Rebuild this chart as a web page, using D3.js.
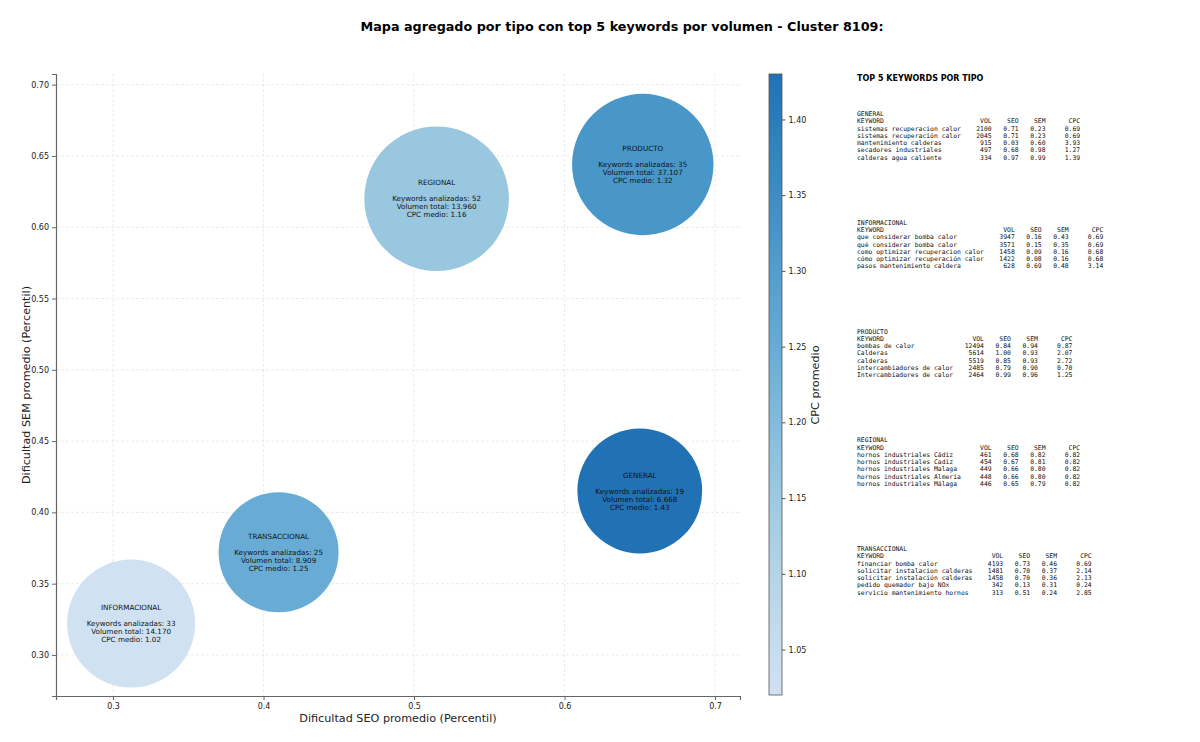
<!DOCTYPE html>
<html>
<head>
<meta charset="utf-8">
<script src="https://cdn.jsdelivr.net/npm/d3@7"></script>
<style>
  body { margin: 0; background: #fff; }
  text { font-family: "DejaVu Sans", sans-serif; fill: #222; }
  .mono { font-family: "DejaVu Sans Mono", monospace; white-space: pre; }
</style>
</head>
<body>
<div class="stage"></div>
<script>
// datos agregados por tipo
var tipos = ["GENERAL", "INFORMACIONAL", "PRODUCTO", "REGIONAL", "TRANSACCIONAL"];
var seoMedio = [0.650, 0.312, 0.652, 0.515, 0.410];
var semMedio = [0.415, 0.322, 0.644, 0.620, 0.372];
var cpcMedio = [1.43, 1.02, 1.32, 1.16, 1.25];
var numKeywords = [19, 33, 35, 52, 25];
var volumenTotal = [6668, 14170, 37107, 13960, 8909];
var pesoBurbuja = [3894, 4096, 4998, 5227, 3600];

// top 5 keywords por tipo
var topKeywords = [
  ["sistemas recuperacion calor", "sistemas recuperación calor", "mantenimiento calderas", "secadores industriales", "calderas agua caliente"],
  ["que considerar bomba calor", "qué considerar bomba calor", "como optimizar recuperacion calor", "cómo optimizar recuperación calor", "pasos mantenimiento caldera"],
  ["bombas de calor", "Calderas", "calderas", "intercambiadores de calor", "Intercambiadores de calor"],
  ["hornos industriales Cádiz", "hornos industriales Cadiz", "hornos industriales Malaga", "hornos industriales Almeria", "hornos industriales Málaga"],
  ["financiar bomba calor", "solicitar instalacion calderas", "solicitar instalación calderas", "pedido quemador bajo NOx", "servicio mantenimiento hornos"]
];
var topVol = [[2100, 2045, 915, 497, 334], [3947, 3571, 1458, 1422, 628], [12494, 5614, 5519, 2485, 2464], [461, 454, 449, 448, 446], [4193, 1481, 1458, 342, 313]];
var topSeo = [[0.71, 0.71, 0.03, 0.68, 0.97], [0.16, 0.15, 0.09, 0.08, 0.69], [0.84, 1.00, 0.85, 0.79, 0.99], [0.68, 0.67, 0.66, 0.66, 0.65], [0.73, 0.70, 0.70, 0.13, 0.51]];
var topSem = [[0.23, 0.23, 0.60, 0.98, 0.99], [0.43, 0.35, 0.16, 0.16, 0.48], [0.94, 0.93, 0.93, 0.90, 0.96], [0.82, 0.81, 0.80, 0.80, 0.79], [0.46, 0.37, 0.36, 0.31, 0.24]];
var topCpc = [[0.69, 0.69, 3.93, 1.27, 1.39], [0.69, 0.69, 0.68, 0.68, 3.14], [0.87, 2.07, 2.72, 0.70, 1.25], [0.82, 0.82, 0.82, 0.82, 0.82], [0.69, 2.14, 2.13, 0.24, 2.85]];

var xTicks = [0.3, 0.4, 0.5, 0.6, 0.7];
var yTicks = [0.30, 0.35, 0.40, 0.45, 0.50, 0.55, 0.60, 0.65, 0.70];
var cTicks = [1.05, 1.10, 1.15, 1.20, 1.25, 1.30, 1.35, 1.40];

var W = 1200, H = 742;
var svg = d3.select(".stage").append("svg").attr("width", W).attr("height", H);

var x = d3.scaleLinear().domain([0.2621, 0.7166]).range([56, 740]);
var y = d3.scaleLinear().domain([0.2712, 0.7075]).range([696, 74]);
var r = d3.scaleSqrt().domain([0, d3.max(pesoBurbuja)]).range([0, 72.3]);

// matplotlib Blues, recortado a [0.2, 0.75]
var bluesStops = ["#f7fbff", "#deebf7", "#c6dbef", "#9ecae1", "#6baed6", "#4292c6", "#2171b5", "#08519c", "#08306b"];
var blues = d3.scaleLinear().domain(d3.range(9).map(function(i){ return i / 8; })).range(bluesStops).interpolate(d3.interpolateRgb);
var cpcExt = d3.extent(cpcMedio);
var color = function(v) { return blues(0.2 + 0.55 * (v - cpcExt[0]) / (cpcExt[1] - cpcExt[0])); };

// titulo
svg.append("text").attr("x", 622).attr("y", 31).attr("text-anchor", "middle")
  .style("font-weight", "bold").style("font-size", "12.75px").style("fill", "#000")
  .text("Mapa agregado por tipo con top 5 keywords por volumen - Cluster 8109:");

// grid
var grid = svg.append("g").attr("stroke", "#e3e3e3").attr("stroke-width", 0.7).attr("stroke-dasharray", "3,2");
grid.selectAll("line.gx").data(xTicks).enter().append("line")
  .attr("x1", function(d){ return x(d); }).attr("x2", function(d){ return x(d); })
  .attr("y1", 74).attr("y2", 696);
grid.selectAll("line.gy").data(yTicks).enter().append("line")
  .attr("y1", function(d){ return y(d); }).attr("y2", function(d){ return y(d); })
  .attr("x1", 56).attr("x2", 740);

// ejes
var xAxis = svg.append("g").attr("transform", "translate(0,696)")
  .call(d3.axisBottom(x).tickValues(xTicks).tickFormat(d3.format(".1f")).tickSizeOuter(0).tickSize(4).tickPadding(3));
var yAxis = svg.append("g").attr("transform", "translate(56,0)")
  .call(d3.axisLeft(y).tickValues(yTicks).tickFormat(d3.format(".2f")).tickSizeOuter(0).tickSize(4).tickPadding(3));
[xAxis, yAxis].forEach(function(a){
  a.select(".domain").attr("stroke", "#666").attr("stroke-width", 1.2);
  a.selectAll(".tick line").attr("stroke", "#666");
  a.selectAll(".tick text").style("font-size", "8px").style("fill", "#222").style("font-family", "DejaVu Sans");
});

svg.append("text").attr("x", 398).attr("y", 722).attr("text-anchor", "middle")
  .style("font-size", "11.2px").text("Dificultad SEO promedio (Percentil)");
svg.append("text").attr("transform", "translate(30,385) rotate(-90)").attr("text-anchor", "middle")
  .style("font-size", "11.2px").text("Dificultad SEM promedio (Percentil)");

// burbujas
var datos = tipos.map(function(t, i){
  return { tipo: t, seo: seoMedio[i], sem: semMedio[i], cpc: cpcMedio[i], n: numKeywords[i], vol: volumenTotal[i], peso: pesoBurbuja[i] };
});
var fmtVol = function(v){ return d3.format(",")(v).replace(/,/g, "."); };

var burbujas = svg.selectAll("g.burbuja").data(datos).enter().append("g").attr("class", "burbuja")
  .attr("transform", function(d){ return "translate(" + x(d.seo) + "," + y(d.sem) + ")"; });
burbujas.append("circle").attr("r", function(d){ return r(d.peso); })
  .attr("fill", function(d){ return color(d.cpc); });
burbujas.each(function(d){
  var lineas = [d.tipo, "", "Keywords analizadas: " + d.n, "Volumen total: " + fmtVol(d.vol), "CPC medio: " + d.cpc.toFixed(2)];
  d3.select(this).selectAll("text").data(lineas).enter().append("text")
    .attr("text-anchor", "middle").attr("y", function(l, i){ return (i - 2) * 8; }).attr("dy", "0.35em")
    .style("font-size", "7.2px").style("fill", "#111").text(function(l){ return l; });
});

// barra de color
var cb = d3.scaleLinear().domain(cpcExt).range([695, 74]);
var grad = svg.append("defs").append("linearGradient").attr("id", "cbgrad")
  .attr("x1", 0).attr("y1", 1).attr("x2", 0).attr("y2", 0);
d3.range(0, 1.0001, 0.05).forEach(function(t){
  grad.append("stop").attr("offset", t).attr("stop-color", color(cpcExt[0] + t * (cpcExt[1] - cpcExt[0])));
});
svg.append("rect").attr("x", 769).attr("y", cb(cpcExt[1])).attr("width", 13)
  .attr("height", cb(cpcExt[0]) - cb(cpcExt[1])).attr("fill", "url(#cbgrad)")
  .attr("stroke", "#555").attr("stroke-width", 0.8);
var cAxis = svg.append("g").attr("transform", "translate(782,0)")
  .call(d3.axisRight(cb).tickValues(cTicks).tickFormat(d3.format(".2f")).tickSizeOuter(0).tickSize(3.5).tickPadding(3));
cAxis.select(".domain").remove();
cAxis.selectAll(".tick line").attr("stroke", "#555");
cAxis.selectAll(".tick text").style("font-size", "8px").style("fill", "#222").style("font-family", "DejaVu Sans");
svg.append("text").attr("transform", "translate(819,385) rotate(-90)").attr("text-anchor", "middle")
  .style("font-size", "11.2px").text("CPC promedio");

// panel de texto
svg.append("text").attr("x", 857).attr("y", 81).style("font-weight", "bold").style("font-size", "8px").style("fill", "#000")
  .text("TOP 5 KEYWORDS POR TIPO");

var lineasPanel = [];
tipos.forEach(function(t, b){
  var ancho = d3.max(topKeywords[b], function(k){ return k.length; }) + 2;
  var filas = [t, "KEYWORD".padEnd(ancho) + "VOL".padStart(6) + "SEO".padStart(7) + "SEM".padStart(7) + "CPC".padStart(9)];
  topKeywords[b].forEach(function(k, i){
    filas.push(k.padEnd(ancho) + String(topVol[b][i]).padStart(6) + topSeo[b][i].toFixed(2).padStart(7) +
      topSem[b][i].toFixed(2).padStart(7) + topCpc[b][i].toFixed(2).padStart(9));
  });
  filas.forEach(function(f, i){ lineasPanel.push({ texto: f, fila: b * 15 + i }); });
});
svg.selectAll("text.mono").data(lineasPanel).enter().append("text").attr("class", "mono")
  .attr("xml:space", "preserve")
  .attr("x", 857).attr("y", function(d){ return 114 + d.fila * 7.25; }).attr("dy", "0.35em")
  .style("font-size", "6.4px").style("fill", "#111").text(function(d){ return d.texto; });
</script>
</body>
</html>
